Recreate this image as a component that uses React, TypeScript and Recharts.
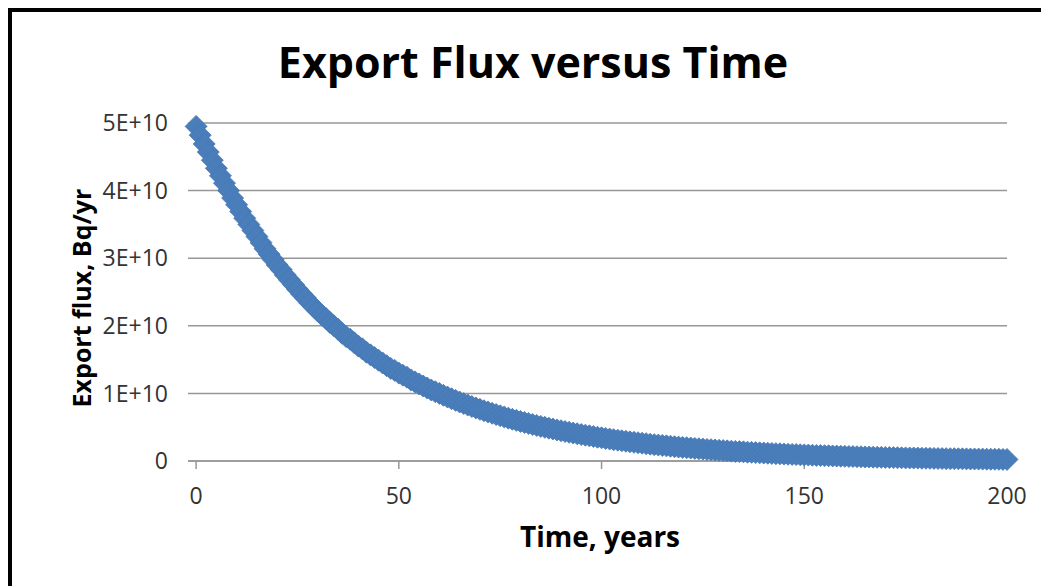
import React from 'react';
import { ScatterChart, Scatter, XAxis, YAxis, CartesianGrid, ZAxis } from 'recharts';

// time in years, one point per year
const years = [
  0, 1, 2, 3, 4, 5, 6, 7, 8, 9, 10, 11, 12, 13, 14, 15, 16, 17, 18, 19,
  20, 21, 22, 23, 24, 25, 26, 27, 28, 29, 30, 31, 32, 33, 34, 35, 36, 37, 38, 39,
  40, 41, 42, 43, 44, 45, 46, 47, 48, 49, 50, 51, 52, 53, 54, 55, 56, 57, 58, 59,
  60, 61, 62, 63, 64, 65, 66, 67, 68, 69, 70, 71, 72, 73, 74, 75, 76, 77, 78, 79,
  80, 81, 82, 83, 84, 85, 86, 87, 88, 89, 90, 91, 92, 93, 94, 95, 96, 97, 98, 99,
  100, 101, 102, 103, 104, 105, 106, 107, 108, 109, 110, 111, 112, 113, 114, 115, 116, 117, 118, 119,
  120, 121, 122, 123, 124, 125, 126, 127, 128, 129, 130, 131, 132, 133, 134, 135, 136, 137, 138, 139,
  140, 141, 142, 143, 144, 145, 146, 147, 148, 149, 150, 151, 152, 153, 154, 155, 156, 157, 158, 159,
  160, 161, 162, 163, 164, 165, 166, 167, 168, 169, 170, 171, 172, 173, 174, 175, 176, 177, 178, 179,
  180, 181, 182, 183, 184, 185, 186, 187, 188, 189, 190, 191, 192, 193, 194, 195, 196, 197, 198, 199,
  200,
];

// export flux, Bq/yr
const exportFlux = [
  4.95e10, 4.82e10, 4.69e10, 4.57e10, 4.45e10, 4.33e10, 4.22e10, 4.11e10, 4.0e10, 3.89e10,
  3.79e10, 3.69e10, 3.59e10, 3.5e10, 3.41e10, 3.32e10, 3.23e10, 3.14e10, 3.06e10, 2.98e10,
  2.9e10, 2.83e10, 2.75e10, 2.68e10, 2.61e10, 2.54e10, 2.47e10, 2.41e10, 2.34e10, 2.28e10,
  2.22e10, 2.16e10, 2.11e10, 2.05e10, 2.0e10, 1.95e10, 1.89e10, 1.84e10, 1.8e10, 1.75e10,
  1.7e10, 1.66e10, 1.61e10, 1.57e10, 1.53e10, 1.49e10, 1.45e10, 1.41e10, 1.37e10, 1.34e10,
  1.3e10, 1.27e10, 1.24e10, 1.2e10, 1.17e10, 1.14e10, 1.11e10, 1.08e10, 1.05e10, 1.025e10,
  1.0e10, 9.72e9, 9.46e9, 9.21e9, 8.97e9, 8.73e9, 8.5e9, 8.28e9, 8.06e9, 7.85e9,
  7.64e9, 7.44e9, 7.25e9, 7.06e9, 6.87e9, 6.69e9, 6.51e9, 6.34e9, 6.17e9, 6.01e9,
  5.85e9, 5.7e9, 5.55e9, 5.4e9, 5.26e9, 5.12e9, 4.99e9, 4.86e9, 4.73e9, 4.6e9,
  4.48e9, 4.36e9, 4.25e9, 4.14e9, 4.03e9, 3.92e9, 3.82e9, 3.72e9, 3.62e9, 3.52e9,
  3.43e9, 3.34e9, 3.25e9, 3.16e9, 3.08e9, 3.0e9, 2.92e9, 2.84e9, 2.77e9, 2.7e9,
  2.63e9, 2.56e9, 2.49e9, 2.42e9, 2.36e9, 2.3e9, 2.24e9, 2.18e9, 2.12e9, 2.06e9,
  2.01e9, 1.96e9, 1.91e9, 1.86e9, 1.81e9, 1.76e9, 1.71e9, 1.67e9, 1.63e9, 1.58e9,
  1.54e9, 1.5e9, 1.46e9, 1.42e9, 1.39e9, 1.35e9, 1.31e9, 1.28e9, 1.24e9, 1.21e9,
  1.18e9, 1.15e9, 1.12e9, 1.09e9, 1.06e9, 1.03e9, 1.0e9, 9.8e8, 9.5e8, 9.2e8,
  9.0e8, 8.8e8, 8.5e8, 8.3e8, 8.1e8, 7.9e8, 7.7e8, 7.5e8, 7.3e8, 7.1e8,
  6.9e8, 6.7e8, 6.5e8, 6.4e8, 6.2e8, 6.0e8, 5.9e8, 5.7e8, 5.6e8, 5.4e8,
  5.3e8, 5.1e8, 5.0e8, 4.9e8, 4.7e8, 4.6e8, 4.5e8, 4.4e8, 4.3e8, 4.1e8,
  4.0e8, 3.9e8, 3.8e8, 3.7e8, 3.6e8, 3.5e8, 3.4e8, 3.4e8, 3.3e8, 3.2e8,
  3.1e8, 3.0e8, 2.9e8, 2.8e8, 2.8e8, 2.7e8, 2.6e8, 2.6e8, 2.5e8, 2.4e8,
  2.3e8,
];

const xTicks = [0, 50, 100, 150, 200];
const yTicks = [0, 1e10, 2e10, 3e10, 4e10, 5e10];

const data = years.map((t, i) => ({ t, flux: exportFlux[i] }));

const BLUE = '#4a7ebb';
const FONT = '"Open Sans", sans-serif';

const Diamond = (props: any) => {
  const { cx, cy } = props;
  const r = 11;
  return (
    <polygon
      points={`${cx},${cy - r} ${cx + r},${cy} ${cx},${cy + r} ${cx - r},${cy}`}
      fill={BLUE}
      stroke="#4677b4"
      strokeWidth={0.8}
    />
  );
};

const fmtY = (v: number) => (v === 0 ? '0' : `${Math.round(v / 1e10)}E+10`);

export default function App() {
  return (
    <div
      style={{
        position: 'relative',
        width: 1041,
        height: 578,
        boxSizing: 'border-box',
        borderLeft: '4px solid #000',
        borderTop: '4px solid #000',
        background: '#fff',
        fontFamily: FONT,
      }}
    >
      <ScatterChart
        width={1037}
        height={574}
        margin={{ top: 111, right: 42, bottom: 65, left: 96 }}
      >
        <CartesianGrid vertical={false} stroke="#979797" strokeWidth={1.5} />
        <XAxis
          type="number"
          dataKey="t"
          domain={[-2, 200]}
          ticks={xTicks}
          height={60}
          axisLine={{ stroke: '#979797', strokeWidth: 1.5 }}
          tickLine={{ stroke: '#979797', strokeWidth: 1.5 }}
          tickSize={8}
          tickMargin={19}
          tick={{ fill: '#333', fontSize: 23, fontFamily: FONT }}
        />
        <YAxis
          type="number"
          dataKey="flux"
          domain={[0, 5e10]}
          ticks={yTicks}
          tickFormatter={fmtY}
          width={80}
          axisLine={false}
          tickLine={false}
          tickSize={8}
          tickMargin={12}
          tick={{ fill: '#333', fontSize: 23, fontFamily: FONT }}
        />
        <ZAxis range={[100, 100]} />
        <Scatter data={data} shape={<Diamond />} isAnimationActive={false} />
      </ScatterChart>
      <svg
        width={1037}
        height={574}
        style={{ position: 'absolute', left: 0, top: 0, pointerEvents: 'none' }}
      >
        <text x={521} y={66} textAnchor="middle" fontSize={43} fontWeight="bold" fill="#000" fontFamily={FONT}>
          Export Flux versus Time
        </text>
        <text x={588} y={535} textAnchor="middle" fontSize={28} fontWeight="bold" fill="#000" fontFamily={FONT}>
          Time, years
        </text>
        <text
          x={79}
          y={286}
          textAnchor="middle"
          fontSize={25}
          fontWeight="bold"
          fill="#000"
          fontFamily={FONT}
          transform="rotate(-90, 79, 286)"
        >
          Export flux, Bq/yr
        </text>
      </svg>
    </div>
  );
}
